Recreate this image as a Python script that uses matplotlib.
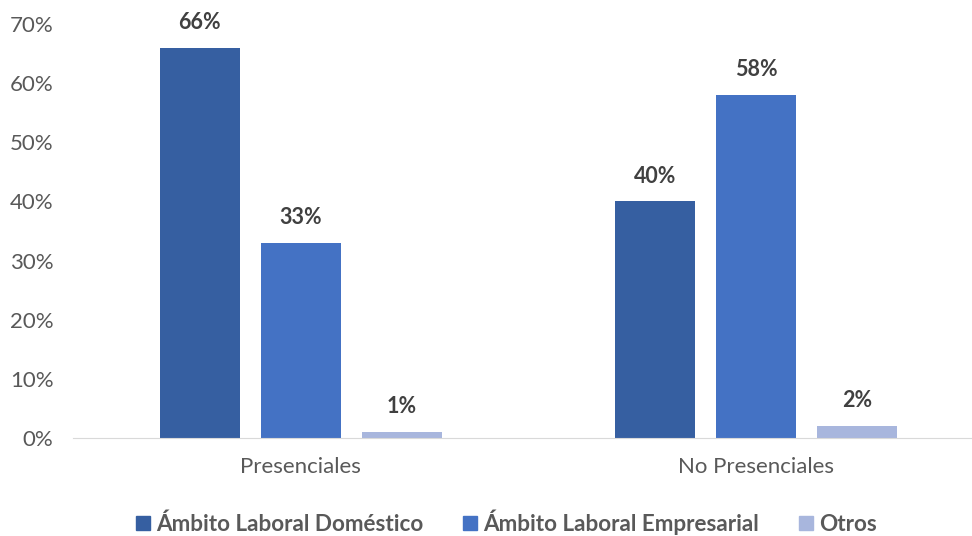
import numpy as np
from matplotlib import pyplot as plt
from matplotlib.patches import Patch

categories = ["Presenciales", "No Presenciales"]
series_names = ["Ámbito Laboral Doméstico", "Ámbito Laboral Empresarial", "Otros"]
domestico = [66, 40]
empresarial = [33, 58]
otros = [1, 2]
colors = ["#365FA1", "#4472C4", "#A8B6DD"]

plt.rcParams['font.family'] = ['Lato', 'DejaVu Sans']

fig = plt.figure(figsize=(9.72, 5.36), dpi=100)
ax = fig.add_axes([73/972, (536-438)/536, (972-73)/972, (438-24)/536])

x = np.arange(len(categories))
width = 0.176
step = 0.222
for i, (vals, col) in enumerate(zip([domestico, empresarial, otros], colors)):
    pos = x + (i - 1) * step
    ax.bar(pos, vals, width, color=col, label=series_names[i])
    for p, v in zip(pos, vals):
        ax.text(p, v + 2.5, "%d%%" % v, ha='center', va='bottom',
                fontsize=15.5, fontweight='bold', color='#404040')

ax.set_ylim(0, 70)
ax.set_xlim(-0.501, 1.475)
ax.set_yticks(np.arange(0, 71, 10))
ax.set_yticklabels(["%d%%" % t for t in range(0, 71, 10)])
ax.set_xticks(x)
ax.set_xticklabels(categories)
ax.tick_params(axis='both', length=0, labelsize=16, labelcolor='#595959')
ax.tick_params(axis='y', pad=14)
ax.tick_params(axis='x', pad=14)
for s in ['top', 'right', 'left']:
    ax.spines[s].set_visible(False)
ax.spines['bottom'].set_color('#D9D9D9')

handles = [Patch(color=c) for c in colors]
leg = fig.legend(handles, series_names, loc='center', bbox_to_anchor=(0.521, 0.026),
                 ncol=3, frameon=False, handlelength=0.62, handleheight=0.62,
                 handletextpad=0.25, columnspacing=1.8,
                 prop={'size': 16.2, 'weight': 'bold'})
for t in leg.get_texts():
    t.set_color('#595959')

plt.savefig("out.png")
